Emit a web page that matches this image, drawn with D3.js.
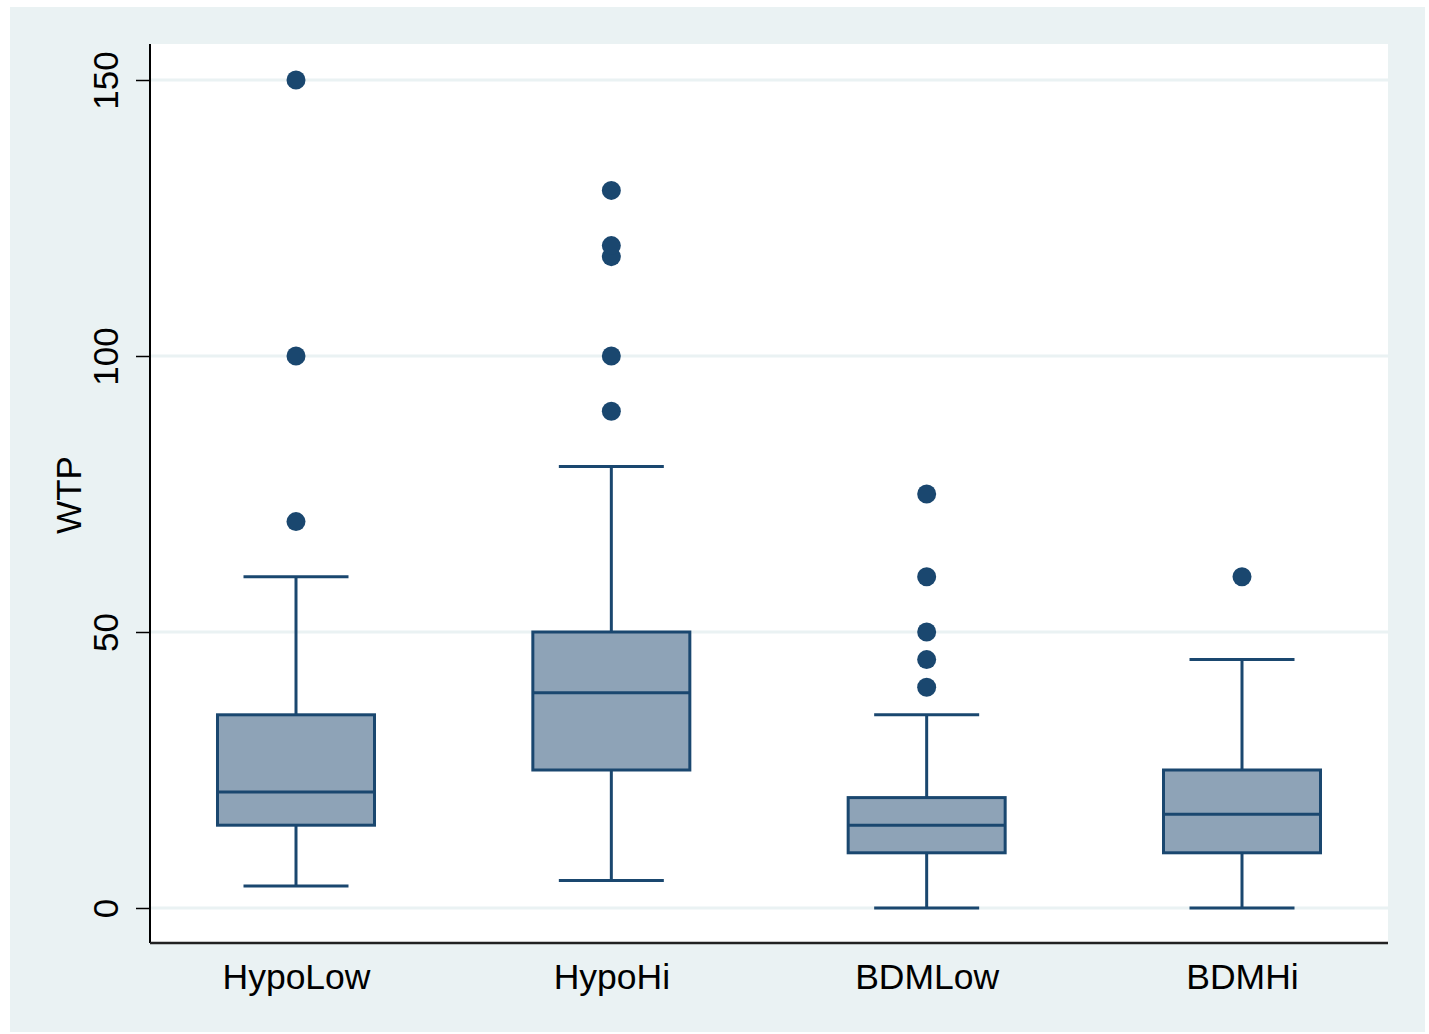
<!DOCTYPE html>
<html>
<head>
<meta charset="utf-8">
<script src="https://cdn.jsdelivr.net/npm/d3@7"></script>
<style>
  body { margin: 0; background: #ffffff; }
  text { font-family: "Liberation Sans", Arial, sans-serif; fill: #000; }
</style>
</head>
<body>
<div id="chart"></div>
<script>
// box plot data
var categories = ["HypoLow", "HypoHi", "BDMLow", "BDMHi"];
var whiskerLow = [4, 5, 0, 0];
var q1 = [15, 25, 10, 10];
var medians = [21, 39, 15, 17];
var q3 = [35, 50, 20, 25];
var whiskerHigh = [60, 80, 35, 45];
var outliers = [
  [70, 100, 150],
  [90, 100, 118, 120, 130],
  [40, 45, 50, 60, 75],
  [60]
];
var yTicks = [0, 50, 100, 150];

var svgWidth = 1429, svgHeight = 1034;
var margin = { top: 44, right: 41, bottom: 91, left: 150 };
var width = svgWidth - margin.left - margin.right;
var height = svgHeight - margin.top - margin.bottom;

var navy = "#1a476f";

var svg = d3.select("#chart").append("svg")
  .attr("width", svgWidth)
  .attr("height", svgHeight);

// outer panel
svg.append("rect")
  .attr("x", 10).attr("y", 7)
  .attr("width", 1415).attr("height", 1025)
  .attr("fill", "#eaf2f3");

var chartGroup = svg.append("g")
  .attr("transform", `translate(${margin.left}, ${margin.top})`);

chartGroup.append("rect")
  .attr("width", width).attr("height", height)
  .attr("fill", "#ffffff");

var x = d3.scalePoint()
  .domain(categories)
  .range([0, width])
  .padding(0.463);

var y = d3.scaleLinear()
  .domain([0, 150])
  .range([864, 36]);

// grid
chartGroup.selectAll(".grid")
  .data(yTicks)
  .enter().append("line")
  .attr("x1", 0).attr("x2", width)
  .attr("y1", d => y(d)).attr("y2", d => y(d))
  .attr("stroke", "#eaf2f3")
  .attr("stroke-width", 3);

var rows = categories.map(function (c, i) {
  return { cat: c, lo: whiskerLow[i], q1: q1[i], med: medians[i], q3: q3[i], hi: whiskerHigh[i], out: outliers[i] };
});

var boxW = 157, capW = 105;

var g = chartGroup.selectAll(".box")
  .data(rows)
  .enter().append("g")
  .attr("transform", d => `translate(${x(d.cat)},0)`);

// whiskers
g.append("line")
  .attr("x1", 0).attr("x2", 0)
  .attr("y1", d => y(d.q3)).attr("y2", d => y(d.hi))
  .attr("stroke", navy).attr("stroke-width", 3);
g.append("line")
  .attr("x1", 0).attr("x2", 0)
  .attr("y1", d => y(d.q1)).attr("y2", d => y(d.lo))
  .attr("stroke", navy).attr("stroke-width", 3);
g.append("line")
  .attr("x1", -capW / 2).attr("x2", capW / 2)
  .attr("y1", d => y(d.hi)).attr("y2", d => y(d.hi))
  .attr("stroke", navy).attr("stroke-width", 3);
g.append("line")
  .attr("x1", -capW / 2).attr("x2", capW / 2)
  .attr("y1", d => y(d.lo)).attr("y2", d => y(d.lo))
  .attr("stroke", navy).attr("stroke-width", 3);

// box
g.append("rect")
  .attr("x", -boxW / 2).attr("width", boxW)
  .attr("y", d => y(d.q3))
  .attr("height", d => y(d.q1) - y(d.q3))
  .attr("fill", "#8ea3b7")
  .attr("stroke", navy).attr("stroke-width", 3);
g.append("line")
  .attr("x1", -boxW / 2).attr("x2", boxW / 2)
  .attr("y1", d => y(d.med)).attr("y2", d => y(d.med))
  .attr("stroke", navy).attr("stroke-width", 3);

// outliers
g.selectAll("circle")
  .data(d => d.out)
  .enter().append("circle")
  .attr("cx", 0)
  .attr("cy", d => y(d))
  .attr("r", 9.5)
  .attr("fill", navy);

// axes
var leftAxis = d3.axisLeft(y).tickValues(yTicks).tickSize(14).tickPadding(0);
var yAxis = chartGroup.append("g").call(leftAxis);
yAxis.select(".domain").remove();
yAxis.selectAll(".tick line").attr("stroke", "#000").attr("stroke-width", 1.5);
yAxis.selectAll(".tick text")
  .attr("x", 0).attr("dy", null)
  .attr("transform", "translate(-32,0) rotate(-90)")
  .attr("text-anchor", "middle")
  .style("font-size", "35px")
  .style("font-family", "Liberation Sans, Arial, sans-serif");

chartGroup.append("line")
  .attr("x1", 0).attr("x2", 0).attr("y1", 0).attr("y2", height)
  .attr("stroke", "#000").attr("stroke-width", 2);
chartGroup.append("line")
  .attr("x1", 0).attr("x2", width).attr("y1", height).attr("y2", height)
  .attr("stroke", "#222").attr("stroke-width", 2.5);

var bottomAxis = d3.axisBottom(x).tickSize(0).tickPadding(0);
var xAxis = chartGroup.append("g")
  .attr("transform", `translate(0, ${height})`)
  .call(bottomAxis);
xAxis.select(".domain").remove();
xAxis.selectAll(".tick text")
  .attr("y", 46).attr("dy", null)
  .style("font-size", "35.5px")
  .style("font-family", "Liberation Sans, Arial, sans-serif");

chartGroup.append("text")
  .attr("transform", `translate(-82, ${495 - margin.top}) rotate(-90)`)
  .attr("text-anchor", "middle")
  .attr("dy", "0.36em")
  .style("font-size", "35px")
  .text("WTP");
</script>
</body>
</html>
